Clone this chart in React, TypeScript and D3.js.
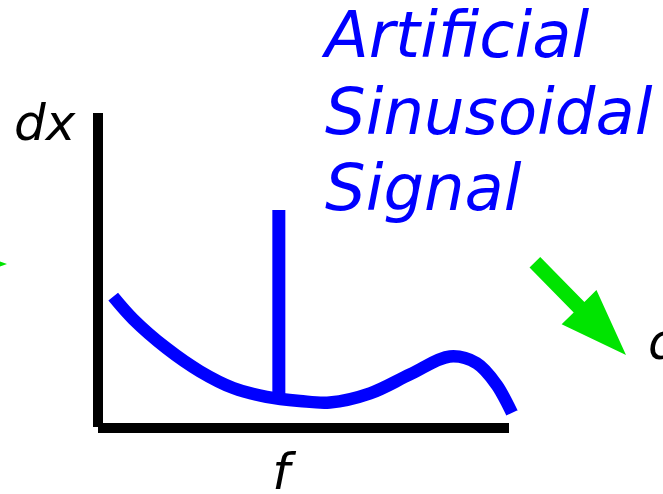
import React from "react";
import * as d3 from "d3";

const W = 663;
const H = 494;

// spectrum curve (f, dx) in abstract units
const curveF = [0.37, 0.86, 1.67, 2.48, 3.29, 4.1, 4.91, 5.64, 6.62, 7.59, 8.56, 9.21, 9.7, 10.07];
const curveDx = [4.17, 3.45, 2.53, 1.8, 1.27, 0.99, 0.86, 0.81, 1.1, 1.7, 2.27, 2.06, 1.37, 0.48];

// artificial sinusoid spike
const spikeF = [4.4];
const spikeDx = [0.79, 6.92];

const titleLines = ["Artificial", "Sinusoidal", "Signal"];
const xLabel = "f";
const yLabel = "dx";

export default function App() {
  const x = d3.scaleLinear().domain([0, 10]).range([98, 509]);
  const y = d3.scaleLinear().domain([0, 10]).range([428, 113]);

  const pts: [number, number][] = curveF.map((f, i) => [f, curveDx[i]]);
  const line = d3
    .line<[number, number]>()
    .x((d) => x(d[0]))
    .y((d) => y(d[1]))
    .curve(d3.curveCatmullRom.alpha(0.5));

  // arrow polygon (pointing along +x, tip at origin)
  const arrowShape: [number, number][] = [
    [-130, -7.5],
    [-67, -7.5],
    [-67, -24.4],
    [0, 0],
    [-67, 24.4],
    [-67, 7.5],
    [-130, 7.5],
  ];
  const arrowPath = "M" + arrowShape.map((p) => p.join(",")).join("L") + "Z";

  const green = "#00e400";
  const blue = "#0000ff";
  const font = "'DejaVu Sans', Verdana, sans-serif";

  return (
    <svg
      width={W}
      height={H}
      style={{ position: "absolute", left: 0, top: 0, background: "#fff" }}
    >
      {/* axes */}
      <line x1={x(0)} x2={x(0)} y1={y(10)} y2={427} stroke="#000" strokeWidth={10} />
      <line x1={x(0)} x2={x(10)} y1={y(0)} y2={y(0)} stroke="#000" strokeWidth={10} />

      {/* spectrum curve */}
      <path d={line(pts) || ""} fill="none" stroke={blue} strokeWidth={12.5} />
      {/* spike */}
      <line
        x1={x(spikeF[0])}
        x2={x(spikeF[0])}
        y1={y(spikeDx[0])}
        y2={y(spikeDx[1])}
        stroke={blue}
        strokeWidth={13}
      />

      {/* labels */}
      <text x={14} y={140} fontFamily={font} fontStyle="italic" fontSize={50} fill="#000">
        {yLabel}
      </text>
      <text x={281} y={489} fontFamily={font} fontStyle="italic" fontSize={50} fill="#000" textAnchor="middle">
        {xLabel}
      </text>
      {titleLines.map((t, i) => (
        <text
          key={t}
          x={325}
          y={57 + i * 76.5}
          fontFamily={font}
          fontStyle="italic"
          fontSize={64}
          fill={blue}
        >
          {t}
        </text>
      ))}

      {/* arrows */}
      <path d={arrowPath} fill={green} transform="translate(7,264)" />
      <path d={arrowPath} fill={green} transform="translate(626,355) rotate(45.5)" />

      {/* partial label at right edge */}
      <text x={648} y={359} fontFamily={font} fontStyle="italic" fontSize={50} fill="#000">
        dx
      </text>
    </svg>
  );
}
